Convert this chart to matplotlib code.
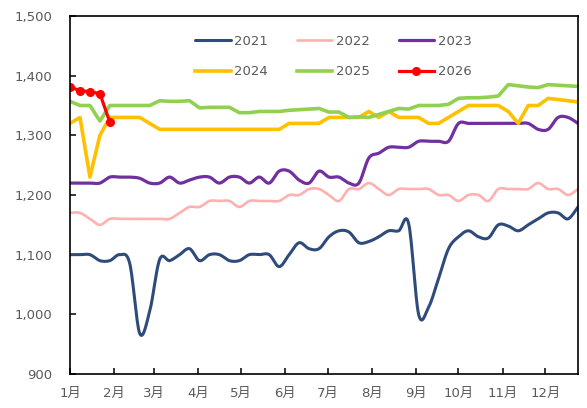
import numpy as np
import matplotlib
matplotlib.use("Agg")
import matplotlib.pyplot as plt

plt.rcParams['font.family'] = ['DejaVu Sans', 'Noto Sans CJK SC']

# ---- data (weekly observations, x = day of year) ----
weeks = list(range(52))
days = [7 * w for w in weeks]

s2021 = [1100, 1100, 1100, 1090, 1090, 1100, 1085, 968, 1005, 1092,
         1090, 1100, 1110, 1090, 1100, 1100, 1090, 1090, 1100, 1100,
         1100, 1080, 1100, 1120, 1110, 1110, 1130, 1140, 1138, 1120,
         1122, 1130, 1140, 1140, 1152, 1000, 1012, 1060, 1110, 1130,
         1140, 1130, 1128, 1150, 1148, 1140, 1150, 1160, 1170, 1170,
         1160, 1180]
s2022 = [1170, 1170, 1160, 1150, 1160, 1160, 1160, 1160, 1160, 1160,
         1160, 1170, 1180, 1180, 1190, 1190, 1190, 1180, 1190, 1190,
         1190, 1190, 1200, 1200, 1210, 1210, 1200, 1190, 1210, 1210,
         1220, 1210, 1200, 1210, 1210, 1210, 1210, 1200, 1200, 1190,
         1200, 1200, 1190, 1210, 1210, 1210, 1210, 1220, 1210, 1210,
         1200, 1210]
s2023 = [1220, 1220, 1220, 1220, 1230, 1230, 1230, 1228, 1220, 1220,
         1230, 1220, 1225, 1230, 1230, 1220, 1230, 1230, 1220, 1230,
         1220, 1240, 1240, 1225, 1220, 1240, 1230, 1230, 1220, 1220,
         1262, 1270, 1280, 1280, 1280, 1290, 1290, 1290, 1290, 1320,
         1320, 1320, 1320, 1320, 1320, 1320, 1320, 1310, 1310, 1330,
         1330, 1320]
s2024 = [1320, 1330, 1230, 1300, 1330, 1330, 1330, 1330, 1320, 1310,
         1310, 1310, 1310, 1310, 1310, 1310, 1310, 1310, 1310, 1310,
         1310, 1310, 1320, 1320, 1320, 1320, 1330, 1330, 1330, 1330,
         1340, 1330, 1340, 1330, 1330, 1330, 1320, 1320, 1330, 1340,
         1350, 1350, 1350, 1350, 1340, 1320, 1350, 1350, 1362, 1360,
         1358, 1356]
s2025 = [1357, 1350, 1350, 1324, 1350, 1350, 1350, 1350, 1350, 1358,
         1357, 1357, 1358, 1346, 1347, 1347, 1347, 1338, 1338, 1340,
         1340, 1340, 1342, 1343, 1344, 1345, 1339, 1339, 1330, 1331,
         1330, 1335, 1340, 1345, 1344, 1350, 1350, 1350, 1352, 1362,
         1363, 1363, 1364, 1366, 1385, 1383, 1381, 1380, 1385, 1384,
         1383, 1382]
s2026 = [1381, 1375, 1373, 1370, 1322]

month_days = [0, 31, 59, 90, 120, 151, 181, 212, 243, 273, 304, 334]
month_labels = ['1月', '2月', '3月', '4月', '5月', '6月',
                '7月', '8月', '9月', '10月', '11月', '12月']
y_ticks = [900, 1000, 1100, 1200, 1300, 1400, 1500]


def smooth(x, y, n=16):
    """Bezier smoothing like spreadsheet 'smoothed line'."""
    x = np.asarray(x, float)
    y = np.asarray(y, float)
    px = np.concatenate([[x[0]], x, [x[-1]]])
    py = np.concatenate([[y[0]], y, [y[-1]]])
    xs, ys = [], []
    t = np.linspace(0, 1, n, endpoint=False)
    for i in range(1, len(px) - 2):
        p0x, p1x, p2x, p3x = px[i - 1], px[i], px[i + 1], px[i + 2]
        p0y, p1y, p2y, p3y = py[i - 1], py[i], py[i + 1], py[i + 2]
        c1x = p1x + (p2x - p0x) / 6
        c1y = p1y + (p2y - p0y) / 6
        c2x = p2x - (p3x - p1x) / 6
        c2y = p2y - (p3y - p1y) / 6
        b0 = (1 - t) ** 3
        b1 = 3 * (1 - t) ** 2 * t
        b2 = 3 * (1 - t) * t ** 2
        b3 = t ** 3
        xs.append(b0 * p1x + b1 * c1x + b2 * c2x + b3 * p2x)
        ys.append(b0 * p1y + b1 * c1y + b2 * c2y + b3 * p2y)
    xs.append([x[-1]])
    ys.append([y[-1]])
    return np.concatenate(xs), np.concatenate(ys)


fig = plt.figure(figsize=(5.87, 4.08), dpi=100)
ax = fig.add_axes([70 / 587, 34 / 408, 508 / 587, 358 / 408])

gray = '#595959'

x, y = smooth(days, s2021)
h21, = ax.plot(x, y, color='#2F4B7C', lw=2.2, label='2021', solid_capstyle='round')
x, y = smooth(days, s2022)
h22, = ax.plot(x, y, color='#FFB0B0', lw=1.9, label='2022', solid_capstyle='round')
x, y = smooth(days, s2023)
h23, = ax.plot(x, y, color='#7030A0', lw=2.3, label='2023', solid_capstyle='round')
h24, = ax.plot(days, s2024, color='#FFC000', lw=2.6, label='2024')
h25, = ax.plot(days, s2025, color='#92D050', lw=2.6, label='2025')
h26, = ax.plot(days[:len(s2026)], s2026, color='#FF0000', lw=2.3, marker='o',
               markersize=5.5, label='2026')

ax.set_xlim(0, 357)
ax.set_ylim(900, 1500)
ax.set_xticks(month_days)
ax.set_xticklabels(month_labels)
ax.set_yticks(y_ticks)
ax.set_yticklabels([f'{v:,}' for v in y_ticks])

ax.tick_params(axis='both', direction='in', length=4, width=1.1,
               colors='black', labelcolor=gray, labelsize=9.5)
ax.tick_params(axis='y', pad=13)
ax.tick_params(axis='x', pad=9)
for sp in ax.spines.values():
    sp.set_linewidth(1.2)
    sp.set_color('black')

handles = [h21, h24, h22, h25, h23, h26]
leg = ax.legend(handles=handles, labels=[h.get_label() for h in handles],
                ncol=3, frameon=False, loc='upper left',
                bbox_to_anchor=(195 / 587, 1 - 35 / 408),
                bbox_transform=fig.transFigure, borderaxespad=0, borderpad=0,
                handlelength=2.7, handletextpad=0.25, columnspacing=2.2,
                labelspacing=1.3, fontsize=9.5)
for t in leg.get_texts():
    t.set_color(gray)

fig.savefig('out.png', dpi=100)
